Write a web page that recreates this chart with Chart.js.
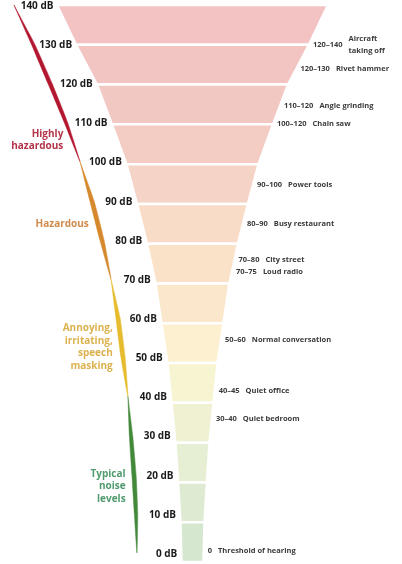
<!DOCTYPE html>
<html>
<head>
<meta charset="utf-8">
<script src="https://cdn.jsdelivr.net/npm/chart.js@4.4.1/dist/chart.umd.min.js"></script>
<style>
  html, body { margin: 0; padding: 0; background: #fff; }
  #wrap { width: 402px; height: 564px; position: relative; }
</style>
</head>
<body>
<div id="wrap"><canvas id="chart"></canvas></div>
<script>
// funnel levels, bottom to top
const dbLevels = [0, 10, 20, 30, 40, 50, 60, 70, 80, 90, 100, 110, 120, 130, 140];
const funnelHalfWidth = [8.1, 8.9, 10.7, 12.6, 15.5, 18.5, 22.9, 27.3, 33.6, 41, 48.8, 59.5, 70.6, 86.1, 100.1];
const curveX = [-41, -41.7, -43.2, -45.4, -47.7, -51.3, -55, -60.2, -66.9, -74.3, -83.1, -93.5, -105.3, -117.8, -131.9];
const bandColors = ['#d6e7d0', '#dfead2', '#e6efd3', '#eff1d2', '#f6f4d1', '#fcf0d0', '#fbe8cc',
                    '#fae2c9', '#f8dcc7', '#f5d3c6', '#f3cdc4', '#f2c8c2', '#f2c5c2', '#f3c3c3'];

// noise categories along the curve
const categoryNames = [['Typical', 'noise', 'levels'], ['Annoying,', 'irritating,', 'speech', 'masking'],
                       ['Hazardous'], ['Highly', 'hazardous']];
const categoryFrom = [0, 40, 70, 100];
const categoryTo = [40, 70, 100, 140];
const categoryLabelDb = [19, 54, 85, 106];
const categoryLineColors = ['#43893a', '#e6bc2e', '#d6882c', '#b3172f'];
const categoryTextColors = ['#4f9a6e', '#dcb24e', '#d08a4a', '#b3344a'];

// example sources
const exampleRanges = ['120–140', '120–130', '110–120', '100–120', '90–100', '80–90',
                       '70–80', '70–75', '50–60', '40–45', '30–40', '0'];
const exampleNames = [['Aircraft', 'taking off'], ['Rivet hammer'], ['Angle grinding'], ['Chain saw'],
                      ['Power tools'], ['Busy restaurant'], ['City street'], ['Loud radio'],
                      ['Normal conversation'], ['Quiet office'], ['Quiet bedroom'], ['Threshold of hearing']];
const exampleDb = [130, 124, 114.6, 110, 94.7, 85, 76, 73, 55.8, 43, 36, 2.8];

const interp = (arr, db) => {
    if (db <= dbLevels[0]) return arr[0];
    for (let i = 1; i < dbLevels.length; i++) {
        if (db <= dbLevels[i]) {
            const t = (db - dbLevels[i - 1]) / (dbLevels[i] - dbLevels[i - 1]);
            return arr[i - 1] + t * (arr[i] - arr[i - 1]);
        }
    }
    return arr[arr.length - 1];
};

const datasets = [];

for (let i = 0; i < dbLevels.length - 1; i++) {
    const lo = dbLevels[i], hi = dbLevels[i + 1];
    const wl = funnelHalfWidth[i], wh = funnelHalfWidth[i + 1];
    datasets.push({
        data: [
            { x: -wh, y: hi }, { x: wh, y: hi }, { x: wl, y: lo }, { x: -wl, y: lo }, { x: -wh, y: hi },
        ],
        fill: 'shape',
        backgroundColor: bandColors[i],
        borderColor: '#ffffff',
        borderWidth: 2.5,
        pointRadius: 0,
        tension: 0,
    });
}

const STROKE = 3.1;
categoryFrom.forEach((from, k) => {
    const i0 = dbLevels.indexOf(from);
    const i1 = dbLevels.indexOf(categoryTo[k]);
    const thick = i => {
        if (i === i0 || i === i1) return 0;
        if (i1 - i0 > 3 && (i === i0 + 1 || i === i1 - 1)) return STROKE * 0.8;
        return STROKE;
    };
    const pts = [];
    for (let i = i1; i >= i0; i--) pts.push({ x: curveX[i] - thick(i) / 2, y: dbLevels[i] });
    for (let i = i0 + 1; i <= i1; i++) pts.push({ x: curveX[i] + thick(i) / 2, y: dbLevels[i] });
    datasets.push({
        data: pts,
        yAxisID: 'yText',
        fill: 'shape',
        backgroundColor: categoryLineColors[k],
        borderColor: categoryLineColors[k],
        borderWidth: 0.5,
        pointRadius: 0,
        tension: 0.15,
    });
});

const textPlugin = {
    id: 'funnelText',
    afterDraw(chart) {
        const { ctx, scales: { x, y, yText } } = chart;
        const font = 'Open Sans, Noto Sans, sans-serif';
        ctx.save();
        ctx.textBaseline = 'middle';

        // dB labels along the left edge
        ctx.font = `bold 10px ${font}`;
        ctx.fillStyle = '#1a1a1a';
        ctx.textAlign = 'right';
        dbLevels.forEach(v => {
            const py = yText.getPixelForValue(v) + 1;
            const edge = interp(funnelHalfWidth, y.getValueForPixel(py));
            ctx.fillText(`${v} dB`, x.getPixelForValue(-edge) - 4, py);
        });

        // category names
        categoryNames.forEach((lines, k) => {
            const cy = y.getPixelForValue(categoryLabelDb[k]);
            const cx = x.getPixelForValue(interp(curveX, yText.getValueForPixel(cy))) - 9;
            const lh = 12.6;
            ctx.fillStyle = categoryTextColors[k];
            lines.forEach((ln, j) => {
                ctx.fillText(ln, cx, cy + (j - (lines.length - 1) / 2) * lh);
            });
        });

        // example sources on the right
        ctx.font = `bold 7.5px ${font}`;
        ctx.fillStyle = '#3a3a3a';
        ctx.textAlign = 'left';
        exampleRanges.forEach((r, k) => {
            const db = exampleDb[k];
            const px = x.getPixelForValue(interp(funnelHalfWidth, db)) + 4;
            const py = y.getPixelForValue(db);
            ctx.fillText(r, px, py);
            const nx = px + ctx.measureText(r).width + 6;
            const lines = exampleNames[k];
            lines.forEach((ln, j) => {
                ctx.fillText(ln, nx, py + (j - (lines.length - 1) / 2) * 12);
            });
        });
        ctx.restore();
    },
};

new Chart(document.getElementById('chart'), {
    type: 'line',
    data: { datasets },
    options: {
        responsive: true,
        maintainAspectRatio: false,
        animation: false,
        layout: { padding: { top: 5, bottom: 2, left: 0, right: 0 } },
        plugins: {
            legend: { display: false },
            tooltip: { enabled: false },
        },
        scales: {
            x: { type: 'linear', min: -142.2, max: 154.8, display: false },
            y: { type: 'linear', min: 0, max: 140, display: false },
            yText: { type: 'linear', min: -2.3, max: 140, display: false },
        },
    },
    plugins: [textPlugin],
});
</script>
</body>
</html>
